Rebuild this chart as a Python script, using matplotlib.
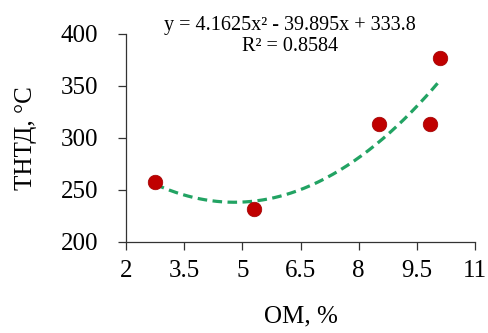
import numpy as np
import matplotlib
matplotlib.use("Agg")
import matplotlib.pyplot as plt

plt.rcParams["font.family"] = ["Liberation Serif", "DejaVu Serif"]

# data
om = [2.75, 5.3, 8.52, 9.84, 10.1]
tntd = [258, 231.5, 313, 313, 377]
# trendline coefficients (from the equation shown on the chart)
coef = [4.1625, -39.895, 333.8]
r2 = 0.8584

xticks = [2, 3.5, 5, 6.5, 8, 9.5, 11]
yticks = [200, 250, 300, 350, 400]

fig = plt.figure(figsize=(4.89, 3.33), dpi=100)
ax = fig.add_axes([0.2577, 0.2733, 0.7137, 0.6247])

xs = np.linspace(min(om), max(om), 200)
ax.plot(xs, np.polyval(coef, xs), color="#22a363", linestyle=(0, (3, 1.7)),
        linewidth=2.3, zorder=2)
ax.scatter(om, tntd, s=110, color="#c00000", edgecolor="#a00000",
           linewidth=0.5, zorder=3)

ax.set_xlim(2, 11)
ax.set_ylim(200, 400)
ax.set_xticks(xticks)
ax.set_xticklabels(["2", "3.5", "5", "6.5", "8", "9.5", "11"])
ax.set_yticks(yticks)

for s in ["top", "right"]:
    ax.spines[s].set_visible(False)
for s in ["left", "bottom"]:
    ax.spines[s].set_linewidth(0.9)
    ax.spines[s].set_color("#333333")

ax.tick_params(axis="both", direction="out", length=6, width=0.9,
               color="#333333", labelsize=18)
ax.tick_params(axis="x", pad=7)
ax.tick_params(axis="y", pad=14)

ax.set_xlabel("OM, %", fontsize=18, labelpad=17)
ax.set_ylabel("ТНТД, °C", fontsize=18, labelpad=17)

eq = "y = %.4fx² - %.3fx + %.1f\nR² = %.4f" % (coef[0], -coef[1], coef[2], r2)
fig.text(290 / 489, 1 - 36 / 333, eq, ha="center", va="center",
         fontsize=14.5, linespacing=1.15,
         bbox=dict(facecolor="white", edgecolor="none", pad=1))

fig.savefig("out.png", dpi=100)
